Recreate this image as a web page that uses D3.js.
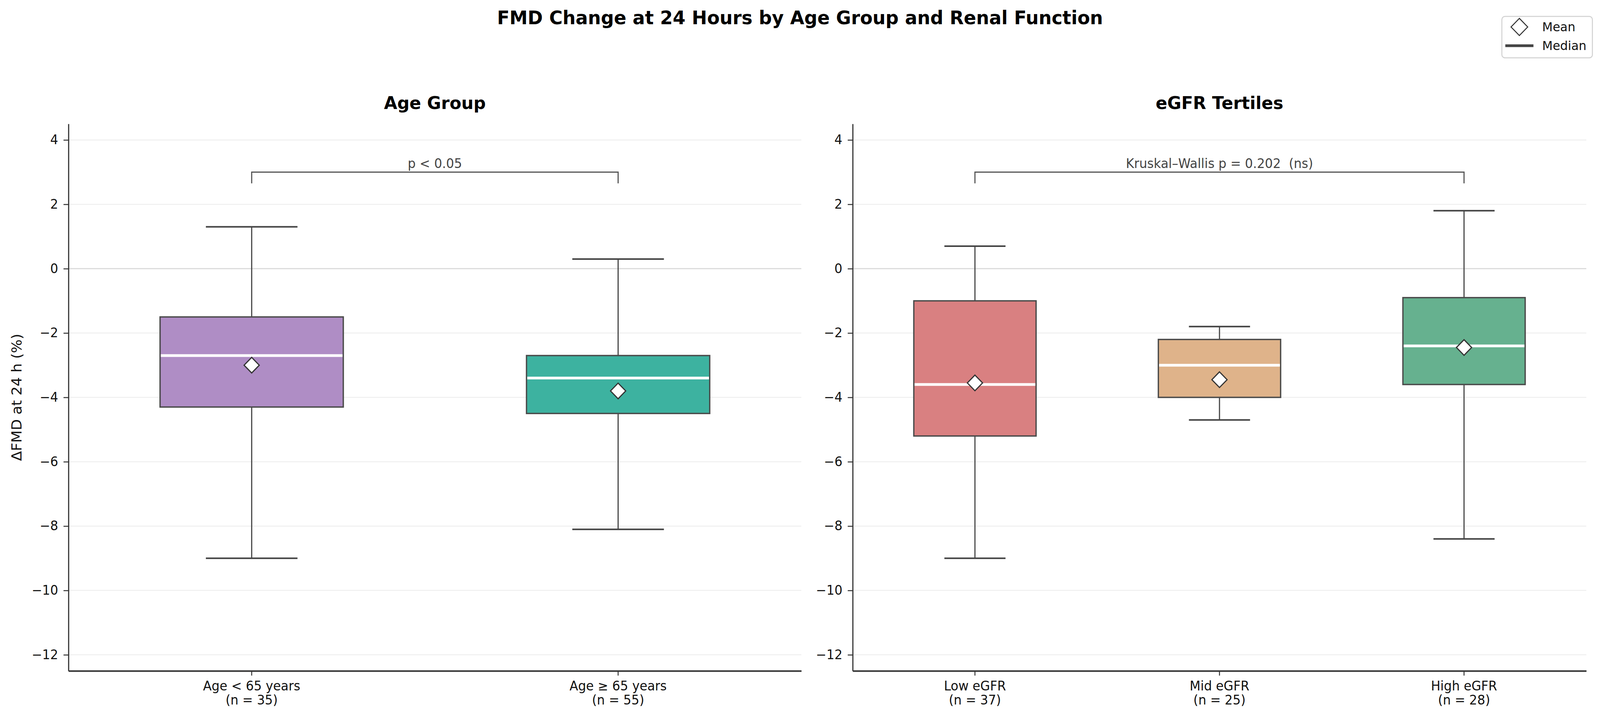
<!DOCTYPE html>
<html>
<head>
<meta charset="utf-8">
<script src="https://cdn.jsdelivr.net/npm/d3@7"></script>
<style>
  html, body { margin: 0; padding: 0; background: #fff; overflow: hidden; }
  svg { display: block; width: 100vw; height: 100vh; font-family: "DejaVu Sans", sans-serif; }
</style>
</head>
<body>
<svg id="chart"></svg>
<script>
// box plot summaries
const ageLabels = ["Age < 65 years", "Age \u2265 65 years"];
const ageN = [35, 55];
const ageLow = [-9.0, -8.1];
const ageQ1 = [-4.3, -4.5];
const ageMedian = [-2.7, -3.4];
const ageQ3 = [-1.5, -2.7];
const ageHigh = [1.3, 0.3];
const ageMean = [-3.0, -3.8];
const ageColors = ["#af8dc5", "#3db2a0"];

const egfrLabels = ["Low eGFR", "Mid eGFR", "High eGFR"];
const egfrN = [37, 25, 28];
const egfrLow = [-9.0, -4.7, -8.4];
const egfrQ1 = [-5.2, -4.0, -3.6];
const egfrMedian = [-3.6, -3.0, -2.4];
const egfrQ3 = [-1.0, -2.2, -0.9];
const egfrHigh = [0.7, -1.8, 1.8];
const egfrMean = [-3.55, -3.45, -2.45];
const egfrColors = ["#d98081", "#dfb38a", "#66b18f"];

const yTicks = [-12, -10, -8, -6, -4, -2, 0, 2, 4];
const yDomain = [-12.5, 4.5];

const width = 4207;
const height = 1835;
const plotTop = 317, plotBottom = 1717;

// fixed drawing space, stretched to whatever the window really is
const svg = d3.select("#chart")
              .attr("viewBox", `0 0 ${width} ${height}`)
              .attr("preserveAspectRatio", "none");

const y = d3.scaleLinear().domain(yDomain).range([plotBottom, plotTop]);

// main title
svg.append("text")
   .attr("x", width / 2)
   .attr("y", 62)
   .attr("text-anchor", "middle")
   .style("font-size", "48px")
   .style("font-weight", "bold")
   .style("fill", "#000")
   .text("FMD Change at 24 Hours by Age Group and Renal Function");

function drawPanel(opts) {
  const { x0, x1, title, labels, n, low, q1, median, q3, high, mean, colors, note } = opts;
  const g = svg.append("g");

  const x = d3.scaleBand().domain(labels).range([x0, x1]).padding(0);
  const bw = x.bandwidth();
  const cx = d => x(d) + bw / 2;

  // grid
  g.selectAll(".grid")
   .data(yTicks)
   .enter()
   .append("line")
   .attr("x1", x0).attr("x2", x1)
   .attr("y1", d => y(d)).attr("y2", d => y(d))
   .attr("stroke", d => d === 0 ? "#dcdcdc" : "#efefef")
   .attr("stroke-width", d => d === 0 ? 3 : 2.5);

  // subplot title
  g.append("text")
   .attr("x", (x0 + x1) / 2)
   .attr("y", 279)
   .attr("text-anchor", "middle")
   .style("font-size", "45px")
   .style("font-weight", "bold")
   .text(title);

  const boxes = labels.map((l, i) => ({
    label: l, low: low[i], q1: q1[i], med: median[i], q3: q3[i], high: high[i], mean: mean[i], color: colors[i]
  }));

  const b = g.selectAll(".box").data(boxes).enter().append("g");

  // whiskers
  b.append("line")
   .attr("x1", d => cx(d.label)).attr("x2", d => cx(d.label))
   .attr("y1", d => y(d.high)).attr("y2", d => y(d.q3))
   .attr("stroke", "#444").attr("stroke-width", 3);
  b.append("line")
   .attr("x1", d => cx(d.label)).attr("x2", d => cx(d.label))
   .attr("y1", d => y(d.q1)).attr("y2", d => y(d.low))
   .attr("stroke", "#444").attr("stroke-width", 3);
  // caps
  ["high", "low"].forEach(k => {
    b.append("line")
     .attr("x1", d => cx(d.label) - bw / 8).attr("x2", d => cx(d.label) + bw / 8)
     .attr("y1", d => y(d[k])).attr("y2", d => y(d[k]))
     .attr("stroke", "#444").attr("stroke-width", 4);
  });

  // box
  b.append("rect")
   .attr("x", d => cx(d.label) - bw / 4)
   .attr("width", bw / 2)
   .attr("y", d => y(d.q3))
   .attr("height", d => y(d.q1) - y(d.q3))
   .attr("fill", d => d.color)
   .attr("stroke", "#4a4a4a")
   .attr("stroke-width", 3.5);

  // median
  b.append("line")
   .attr("x1", d => cx(d.label) - bw / 4 + 2).attr("x2", d => cx(d.label) + bw / 4 - 2)
   .attr("y1", d => y(d.med)).attr("y2", d => y(d.med))
   .attr("stroke", "#fff").attr("stroke-width", 7);

  // mean diamond
  b.append("path")
   .attr("d", d => {
     const px = cx(d.label), py = y(d.mean), r = 20;
     return `M${px},${py - r}L${px + r},${py}L${px},${py + r}L${px - r},${py}Z`;
   })
   .attr("fill", "#fff")
   .attr("stroke", "#333")
   .attr("stroke-width", 3);

  // bracket + note
  const bx0 = cx(labels[0]), bx1 = cx(labels[labels.length - 1]);
  g.append("path")
   .attr("d", `M${bx0},${y(2.65)}V${y(3)}H${bx1}V${y(2.65)}`)
   .attr("fill", "none")
   .attr("stroke", "#555")
   .attr("stroke-width", 3);
  g.append("text")
   .attr("x", (bx0 + bx1) / 2)
   .attr("y", y(3) - 11)
   .attr("text-anchor", "middle")
   .style("font-size", "33px")
   .style("fill", "#444")
   .style("white-space", "pre")
   .text(note);

  // y axis
  const ya = g.append("g")
   .attr("transform", `translate(${x0},0)`)
   .call(d3.axisLeft(y).tickValues(yTicks).tickSize(13).tickSizeOuter(0).tickPadding(14));
  ya.select(".domain").attr("stroke", "#333").attr("stroke-width", 3);
  ya.selectAll(".tick line").attr("stroke", "#333").attr("stroke-width", 2.5);
  ya.selectAll(".tick text").style("font-size", "33px").style("fill", "#111").style("font-family", "DejaVu Sans");

  // x axis
  const xa = g.append("g")
   .attr("transform", `translate(0,${plotBottom})`)
   .call(d3.axisBottom(x).tickSize(12).tickSizeOuter(0).tickPadding(10));
  xa.select(".domain").attr("stroke", "#333").attr("stroke-width", 4);
  xa.selectAll(".tick line").attr("stroke", "#333").attr("stroke-width", 2.5);
  xa.selectAll(".tick text")
    .style("font-size", "33px").style("fill", "#111").style("font-family", "DejaVu Sans")
    .attr("dy", null)
    .attr("y", 0)
    .text(null)
    .each(function(d, i) {
      const t = d3.select(this);
      t.append("tspan").attr("x", 0).attr("y", 50).text(d);
      t.append("tspan").attr("x", 0).attr("y", 86).text(`(n = ${n[i]})`);
    });
}

drawPanel({
  x0: 180, x1: 2107, title: "Age Group", labels: ageLabels, n: ageN,
  low: ageLow, q1: ageQ1, median: ageMedian, q3: ageQ3, high: ageHigh, mean: ageMean,
  colors: ageColors, note: "p < 0.05"
});

drawPanel({
  x0: 2242, x1: 4171, title: "eGFR Tertiles", labels: egfrLabels, n: egfrN,
  low: egfrLow, q1: egfrQ1, median: egfrMedian, q3: egfrQ3, high: egfrHigh, mean: egfrMean,
  colors: egfrColors, note: "Kruskal\u2013Wallis p = 0.202  (ns)"
});

// y label
svg.append("text")
   .attr("transform", `translate(57,${(plotTop + plotBottom) / 2}) rotate(-90)`)
   .attr("text-anchor", "middle")
   .style("font-size", "37px")
   .style("fill", "#111")
   .text("\u0394FMD at 24 h (%)");

// legend
const leg = svg.append("g");
leg.append("rect")
   .attr("x", 3949).attr("y", 42)
   .attr("width", 238).attr("height", 106)
   .attr("rx", 8)
   .attr("fill", "#fff")
   .attr("stroke", "#d0d0d0")
   .attr("stroke-width", 2.5);
leg.append("path")
   .attr("d", "M3995,47L4017,69L3995,91L3973,69Z")
   .attr("fill", "#fff")
   .attr("stroke", "#333")
   .attr("stroke-width", 2.5);
leg.append("line")
   .attr("x1", 3958).attr("x2", 4032)
   .attr("y1", 117).attr("y2", 117)
   .attr("stroke", "#444")
   .attr("stroke-width", 7);
leg.append("text").attr("x", 4055).attr("y", 80).style("font-size", "32px").style("fill", "#111").text("Mean");
leg.append("text").attr("x", 4055).attr("y", 128).style("font-size", "32px").style("fill", "#111").text("Median");
</script>
</body>
</html>
